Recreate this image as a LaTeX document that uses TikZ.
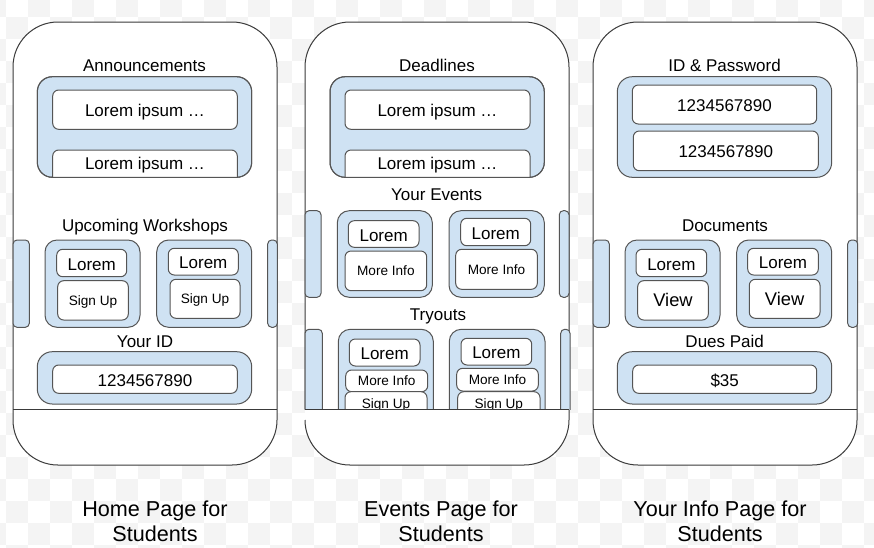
\documentclass[tikz,border=0pt]{standalone}
\usepackage{fontspec}
\setmainfont{Liberation Sans}
\definecolor{panelblue}{HTML}{CFE2F3}
\definecolor{checkgray}{HTML}{F4F4F4}
\definecolor{edge}{HTML}{555555}
\definecolor{phoneedge}{HTML}{3A3A3A}
\newcommand\fnormal{\fontsize{17}{20.4}\selectfont}
\newcommand\fsmall{\fontsize{13.6}{16}\selectfont}
\newcommand\fview{\fontsize{18.3}{21}\selectfont}
\newcommand\fcap{\fontsize{21.6}{25}\selectfont}
\begin{document}
\begin{tikzpicture}[x=1pt,y=-1pt,
  phone/.style={draw=phoneedge, line width=1pt, fill=white, rounded corners=45pt, inner sep=0pt, outer sep=0pt},
  phonefill/.style={draw=none, fill=white, rounded corners=45pt, inner sep=0pt, outer sep=0pt},
  phoneline/.style={draw=phoneedge, line width=1pt},
  panel/.style={draw=edge, line width=1pt, fill=panelblue, rounded corners=15pt, inner sep=0pt, outer sep=0pt},
  panelrim/.style={draw=edge, line width=1pt, rounded corners=15pt},
  card/.style={panel, rounded corners=12pt},
  tab/.style={panel, rounded corners=4pt},
  field/.style={draw=edge, line width=1pt, fill=white, rounded corners=6pt, inner sep=0pt, outer sep=0pt, font=\fnormal, text height=14pt, text depth=0pt},
  smallfield/.style={field, font=\fsmall, text height=9.4pt},
  viewfield/.style={field, font=\fview, text height=12.8pt},
  label/.style={anchor=base, inner sep=0pt, font=\fnormal},
  caption/.style={anchor=base, inner sep=0pt, font=\fcap},
]
\useasboundingbox (0,0) rectangle (874,547);
% transparency checkerboard
\begin{scope}
\clip (0,0) rectangle (874,547);
\fill[white] (0,0) rectangle (874,547);
\foreach \c in {-1,...,39}{\foreach \r in {0,...,25}{
  \pgfmathtruncatemacro\chk{mod(\c+\r+2,2)}
  \ifnum\chk=1 \fill[checkgray] ({6+22*\c},{-5+22*\r}) rectangle ++(22,22); \fi
}}
\end{scope}

% ================= phones =================
\node[phone, minimum width=264pt, minimum height=443pt] (p1) at (145,243.5) {};
\node[phonefill, minimum width=264pt, minimum height=443pt] (p2) at (437,243.5) {};
\draw[phoneline, rounded corners=45pt] (305,409) -- (305,22) -- (569,22) -- (569,465) -- (305,465) -- (305,420);
\node[phone, minimum width=264pt, minimum height=443pt] (p3) at (725,243.5) {};

% ================= Home page =================
\node[label] (h-t1) at (144.5,71.7) {Announcements};
\node[panel, minimum width=214.4pt, minimum height=100.6pt] (h-c1) at (144.5,127) {};
\node[field, minimum width=184.6pt, minimum height=39.3pt] (h-a1) at (145,109.65) {Lorem ipsum …};
\node[label] (h-t2) at (145,231) {Upcoming Workshops};
\node[tab, minimum width=16.3pt, minimum height=87.3pt] (h-lt) at (21.15,283.65) {};
\node[card, minimum width=95pt, minimum height=87.3pt] (h-k1) at (92.5,283.65) {};
\node[field, minimum width=70pt, minimum height=27.4pt] (h-k1a) at (91.7,263) {Lorem};
\node[smallfield, minimum width=70.6pt, minimum height=39.3pt] (h-k1b) at (93,300.35) {Sign Up};
\node[card, minimum width=95pt, minimum height=87.3pt] (h-k2) at (204.2,283.65) {};
\node[field, minimum width=70pt, minimum height=26.7pt] (h-k2a) at (203.3,261.65) {Lorem};
\node[smallfield, minimum width=70pt, minimum height=39pt] (h-k2b) at (205,298.8) {Sign Up};
\node[tab, minimum width=9.6pt, minimum height=87.3pt] (h-rt) at (272.5,283.65) {};
\node[label] (h-t3) at (145,347.3) {Your ID};
\node[panel, minimum width=214.4pt, minimum height=52.3pt] (h-c2) at (144.5,377.85) {};
\node[field, minimum width=184.6pt, minimum height=28.3pt] (h-id) at (145,379.15) {1234567890};
\draw[phoneline] (p1.west |- 0,409) -- (p1.east |- 0,409);

% ================= Events page =================
\node[label] (e-t1) at (437,71.7) {Deadlines};
\node[panel, minimum width=214.3pt, minimum height=100.6pt] (e-c1) at (437.15,127) {};
\node[field, minimum width=185pt, minimum height=39.3pt] (e-a1) at (437.5,109.65) {Lorem ipsum …};
\node[label] (e-t2) at (436.7,200.7) {Your Events};
\node[tab, minimum width=16pt, minimum height=86.6pt] (e-lt) at (313,254) {};
\node[card, minimum width=95pt, minimum height=86.6pt] (e-k1) at (384.8,254) {};
\node[field, minimum width=70.7pt, minimum height=26.6pt] (e-k1a) at (383.65,234) {Lorem};
\node[smallfield, minimum width=81.7pt, minimum height=39.7pt] (e-k1b) at (385.85,270.85) {More Info};
\node[card, minimum width=95.3pt, minimum height=86.6pt] (e-k2) at (496.65,254) {};
\node[field, minimum width=70pt, minimum height=27.4pt] (e-k2a) at (495.7,232) {Lorem};
\node[smallfield, minimum width=81.6pt, minimum height=40pt] (e-k2b) at (496.5,269.3) {More Info};
\node[tab, minimum width=9.7pt, minimum height=86.6pt] (e-rt) at (564.15,254) {};
\node[label] (e-t3) at (438,320) {Tryouts};
\begin{scope}
\clip (290,300) rectangle (580,409);
\node[tab, minimum width=17.3pt, minimum height=100pt] (e-lt2) at (313.65,379.3) {};
\node[card, minimum width=95pt, minimum height=100pt] (e-k3) at (385.8,379.3) {};
\node[field, minimum width=70.7pt, minimum height=27pt] (e-k3a) at (384.65,352.5) {Lorem};
\node[smallfield, minimum width=82pt, minimum height=21.7pt] (e-k3b) at (386.7,380.85) {More Info};
\node[smallfield, minimum width=82pt, minimum height=23.3pt] (e-k3c) at (386,403.35) {Sign Up};
\node[card, minimum width=95.7pt, minimum height=100pt] (e-k4) at (497.15,379.3) {};
\node[field, minimum width=70.7pt, minimum height=26.7pt] (e-k4a) at (496.35,351.65) {Lorem};
\node[smallfield, minimum width=81.6pt, minimum height=22.7pt] (e-k4b) at (497.5,379.65) {More Info};
\node[smallfield, minimum width=82.3pt, minimum height=23.3pt] (e-k4c) at (498.85,403.35) {Sign Up};
\node[tab, minimum width=9.3pt, minimum height=100pt] (e-rt2) at (565.35,379.3) {};
\end{scope}
\draw[phoneline] (p2.west |- 0,409) -- (p2.east |- 0,409);

% ================= Info page =================
\node[label] (i-t1) at (724.5,71.7) {ID \& Password};
\node[panel, minimum width=214.4pt, minimum height=100.6pt] (i-c1) at (724.5,127) {};
\node[field, minimum width=184.4pt, minimum height=39pt] (i-a1) at (724.5,104.5) {1234567890};
\node[field, minimum width=185pt, minimum height=39.7pt] (i-a2) at (725.8,150.85) {1234567890};
\node[label] (i-t2) at (725,231) {Documents};
\node[tab, minimum width=16.3pt, minimum height=87.3pt] (i-lt) at (601.15,283.65) {};
\node[card, minimum width=95pt, minimum height=87.3pt] (i-k1) at (672.5,283.65) {};
\node[field, minimum width=70.7pt, minimum height=27.4pt] (i-k1a) at (671.35,263) {Lorem};
\node[viewfield, minimum width=70.6pt, minimum height=39.3pt] (i-k1b) at (673,300.35) {View};
\node[card, minimum width=95pt, minimum height=87.3pt] (i-k2) at (784.2,283.65) {};
\node[field, minimum width=70.6pt, minimum height=26.7pt] (i-k2a) at (783,261.65) {Lorem};
\node[viewfield, minimum width=70.7pt, minimum height=39pt] (i-k2b) at (784.65,298.8) {View};
\node[tab, minimum width=10pt, minimum height=87.3pt] (i-rt) at (852.7,283.65) {};
\node[label] (i-t3) at (724.7,347.3) {Dues Paid};
\node[panel, minimum width=214.4pt, minimum height=52.3pt] (i-c2) at (724.5,377.85) {};
\node[field, minimum width=184pt, minimum height=28.3pt] (i-fee) at (724.7,379.15) {\$35};
\draw[phoneline] (p3.west |- 0,409) -- (p3.east |- 0,409);

% ===== second announcement / deadline rows, cut by the panel bottom =====
\begin{scope}
\clip (0,140) rectangle (874,177.3);
\node[field, minimum width=184.6pt, minimum height=40pt] (h-a2) at (145,170) {};
\node[field, minimum width=185pt, minimum height=40pt] (e-a2) at (437.5,170) {};
\end{scope}
\node[label] (h-a2t) at (145,169.3) {Lorem ipsum …};
\node[label] (e-a2t) at (437.5,169.3) {Lorem ipsum …};
\draw[panelrim] (h-c1.north west) rectangle (h-c1.south east);
\draw[panelrim] (e-c1.north west) rectangle (e-c1.south east);

% ================= captions =================
\node[caption] (cap1a) at (155,516) {Home Page for};
\node[caption] (cap1b) at (155,541) {Students};
\node[caption] (cap2a) at (441,516) {Events Page for};
\node[caption] (cap2b) at (441,541) {Students};
\node[caption] (cap3a) at (720,516) {Your Info Page for};
\node[caption] (cap3b) at (720,541) {Students};
\end{tikzpicture}
\end{document}
